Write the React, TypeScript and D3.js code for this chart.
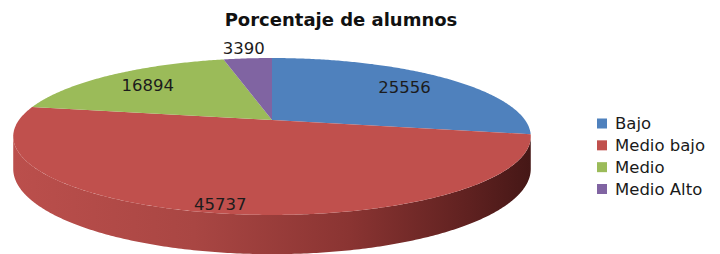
import React, { useEffect } from 'react'
import * as d3 from 'd3'

// datos
const categories = ['Bajo', 'Medio bajo', 'Medio', 'Medio Alto']
const values = [25556, 45737, 16894, 3390]
const colors = ['#4f81bd', '#c0504d', '#9bbb59', '#8064a2']
const title = 'Porcentaje de alumnos'

// layout (not data)
const labelRadius = [0.75, 0.92, 0.75, 1.2]
const W = 720, H = 254
const cx = 272, cy = 120
const rx = 253, ry = 75, persp = 0.21, depth = 31

// circle on a tilted plane, seen with a bit of perspective
function project(t: number, f = 1, drop = 0): [number, number] {
  const s = 1 + persp * f * Math.sin(t)
  return [cx + (rx * f * Math.cos(t)) / s, cy - (ry * f * Math.sin(t)) / s + drop / s]
}

function arcPoints(t0: number, t1: number, drop = 0) {
  const n = Math.max(2, Math.ceil(Math.abs(t1 - t0) / 0.01))
  return d3.range(n + 1).map(i => project(t0 + ((t1 - t0) * i) / n, 1, drop))
}

const line = d3.line()

export default function App() {
  useEffect(() => {
    document.body.style.margin = '0'
  }, [])

  const pie = d3.pie<number>().sort(null).startAngle(0).endAngle(2 * Math.PI)
  const arcs = pie(values)

  // d3 angle (0 = 12 o'clock, clockwise) -> plane angle
  const toT = (a: number) => Math.PI / 2 - a

  const vis0 = Math.PI + Math.asin(persp)
  const vis1 = 2 * Math.PI - Math.asin(persp)

  const sides: { d: string; i: number }[] = []
  arcs.forEach((a, i) => {
    const lo = toT(a.endAngle), hi = toT(a.startAngle)
    for (const k of [-1, 0, 1, 2]) {
      const s0 = Math.max(lo + k * 2 * Math.PI, vis0)
      const s1 = Math.min(hi + k * 2 * Math.PI, vis1)
      if (s1 > s0) {
        const pts = arcPoints(s0, s1).concat(arcPoints(s1, s0, depth))
        sides.push({ d: line(pts) + 'Z', i })
      }
    }
  })

  const tops = arcs.map((a, i) => {
    const pts = [project(0, 0) as [number, number]].concat(arcPoints(toT(a.startAngle), toT(a.endAngle)))
    return { d: line(pts) + 'Z', i }
  })

  const labels = arcs.map((a, i) => {
    const mid = toT((a.startAngle + a.endAngle) / 2)
    const [x, y] = project(mid, labelRadius[i])
    return { x, y, text: String(values[i]) }
  })

  const legendY = d3.scaleLinear().domain([0, categories.length - 1]).range([123.5, 189])

  return (
    <svg width={W} height={H} style={{ display: 'block', background: '#fff' }}>
      <defs>
        <linearGradient id="sideGrad" gradientUnits="userSpaceOnUse" x1={cx - rx - 6} x2={cx + rx + 6} y1={0} y2={0}>
          <stop offset="0" stopColor="#bb4f4c" />
          <stop offset="0.35" stopColor="#a94643" />
          <stop offset="0.65" stopColor="#8a3432" />
          <stop offset="0.88" stopColor="#5f2120" />
          <stop offset="1" stopColor="#451716" />
        </linearGradient>
      </defs>
      <text x={341} y={20} dy="0.36em" textAnchor="middle" fontFamily="DejaVu Sans" fontWeight="bold" fontSize={18} fill="#111">
        {title}
      </text>
      {sides.map((s, j) => (
        <path key={'s' + j} d={s.d} fill="url(#sideGrad)" />
      ))}
      {tops.map(t => (
        <path key={'t' + t.i} d={t.d} fill={colors[t.i]} />
      ))}
      {labels.map((l, i) => (
        <text key={'l' + i} x={l.x} y={l.y} dy="0.36em" textAnchor="middle" fontFamily="DejaVu Sans" fontSize={16.5} fill="#1c1c1c">
          {l.text}
        </text>
      ))}
      <g>
        {categories.map((c, i) => (
          <g key={c} transform={`translate(597,${legendY(i)})`}>
            <rect x={0} y={-5} width={10} height={10} fill={colors[i]} />
            <text x={18} y={0} dy="0.36em" fontFamily="DejaVu Sans" fontSize={16.5} fill="#1a1a1a">
              {c}
            </text>
          </g>
        ))}
      </g>
    </svg>
  )
}
